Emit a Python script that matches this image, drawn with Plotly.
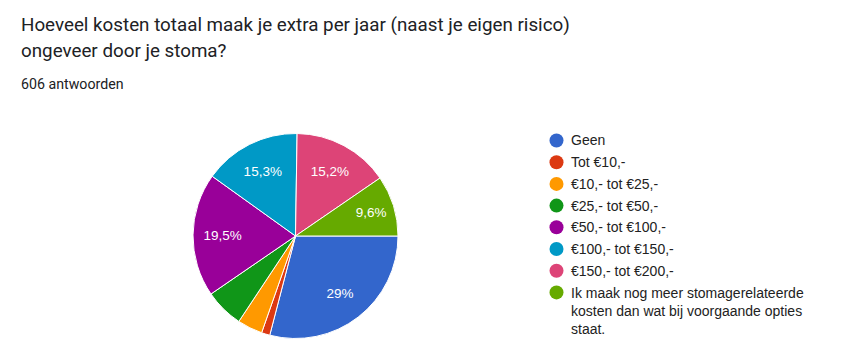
import textwrap
import plotly.graph_objects as go

# ---- data ----
title_lines = ["Hoeveel kosten totaal maak je extra per jaar (naast je eigen risico)",
               "ongeveer door je stoma?"]
subtitle = "606 antwoorden"
categories = ["Geen", "Tot €10,-", "€10,- tot €25,-", "€25,- tot €50,-",
              "€50,- tot €100,-", "€100,- tot €150,-", "€150,- tot €200,-",
              "Ik maak nog meer stomagerelateerde kosten dan wat bij voorgaande opties staat."]
counts = [176, 8, 24, 37, 118, 93, 92, 58]
colors = ["#3366cc", "#dc3912", "#ff9900", "#109618",
          "#990099", "#0099c6", "#dd4477", "#66aa00"]

# page body has an 8px margin; work in window pixel coordinates
OFF = 8
W, H = 855 - OFF, 355 - OFF
def X(px):
    return (px - OFF) / W
def Y(py):
    return 1 - (py - OFF) / H

total = sum(counts)
def fmt(v):
    p = round(v / total * 100, 1)
    s = ("%.1f" % p).rstrip("0").rstrip(".")
    return s.replace(".", ",") + "%"
slice_text = [fmt(v) if v / total >= 0.08 else "" for v in counts]

dom = dict(x=[X(193), X(398)], y=[Y(338.5), Y(133.5)])
fig = go.Figure()
fig.add_trace(go.Pie(
    labels=categories, values=counts, textinfo="none",
    marker=dict(colors=colors, line=dict(color="white", width=1)),
    sort=False, direction="clockwise", rotation=90,
    domain=dom, showlegend=False, hoverinfo="label+percent",
))
# transparent ring carrying the percentage labels (places them mid-radius)
fig.add_trace(go.Pie(
    labels=categories, values=counts, text=slice_text, hole=0.42,
    textinfo="text", textposition="inside", insidetextorientation="horizontal",
    textfont=dict(family="Arial, Liberation Sans", size=13.5, color="white"),
    marker=dict(colors=["rgba(0,0,0,0)"] * len(counts), line=dict(width=0)),
    sort=False, direction="clockwise", rotation=90,
    domain=dom, showlegend=False, hoverinfo="skip",
))

ann = []
shapes = []
title_font = dict(family="Roboto", size=18.8, color="#202124")
for line, yc in zip(title_lines, [25, 50.5]):
    ann.append(dict(text=line, x=X(19), y=Y(yc), xref="paper", yref="paper",
                    xanchor="left", yanchor="middle", showarrow=False, font=title_font))
ann.append(dict(text=subtitle, x=X(19), y=Y(84), xref="paper", yref="paper",
                xanchor="left", yanchor="middle", showarrow=False,
                font=dict(family="Roboto", size=14.2, color="#202124")))

leg_font = dict(family="Arial, Liberation Sans", size=14, color="#222222")
y0, step = 140.5, 21.7
for i, (lab, col) in enumerate(zip(categories, colors)):
    yc = y0 + step * i
    shapes.append(dict(type="circle", xref="paper", yref="paper",
                       x0=X(556.5 - 7), x1=X(556.5 + 7), y0=Y(yc + 7), y1=Y(yc - 7),
                       fillcolor=col, line=dict(width=0)))
    wrapped = textwrap.wrap(lab, 36)
    n = len(wrapped)
    ann.append(dict(text="<br>".join(wrapped), x=X(568.5), y=Y(yc + 18.2 * (n - 1) / 2),
                    xref="paper", yref="paper", xanchor="left", yanchor="middle",
                    align="left", showarrow=False, font=leg_font))

fig.update_layout(width=W, height=H, margin=dict(l=0, r=0, t=0, b=0),
                  paper_bgcolor="white", plot_bgcolor="white",
                  uniformtext=dict(minsize=13.5, mode="show"),
                  annotations=ann, shapes=shapes)
fig.write_html("out.html")
